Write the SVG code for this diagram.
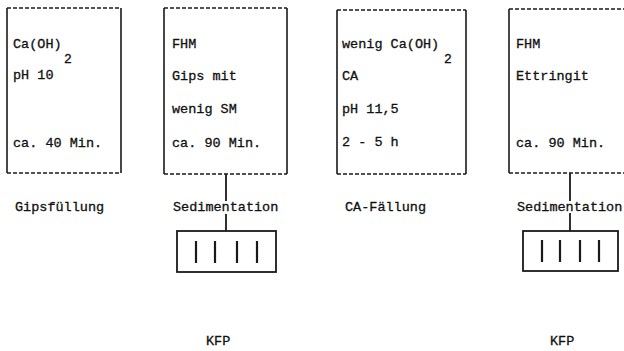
<svg xmlns="http://www.w3.org/2000/svg" width="624" height="351" viewBox="0 0 624 351">
<style>
text{font-family:"Liberation Mono","Courier New",monospace;font-size:13.5px;fill:#111;font-weight:normal;stroke:#111;stroke-width:0.3}
.sub{font-size:13px}
.side{stroke:#1a1a1a;stroke-width:1.6;fill:none}
.dash{stroke:#1a1a1a;stroke-width:1.4;stroke-dasharray:4 2;fill:none}
.con{stroke:#1a1a1a;stroke-width:1.8;fill:none}
.kbox{stroke:#1a1a1a;stroke-width:1.8;fill:#fff}
.bar{stroke:#1a1a1a;stroke-width:2.2}
</style>
<rect width="624" height="351" fill="#fff"/>
<g id="box1">
<line class="dash" x1="7" y1="8" x2="121" y2="8"/>
<line class="dash" x1="7" y1="173" x2="121" y2="173"/>
<line class="side" x1="7" y1="8" x2="7" y2="173"/>
<line class="side" x1="121" y1="8" x2="121" y2="173"/>
<text x="13" y="48">Ca(OH)</text>
<text class="sub" x="64" y="63">2</text>
<text x="13" y="79">pH 10</text>
<text x="13" y="147">ca. 40 Min.</text>
</g>
<g id="box2">
<line class="dash" x1="164" y1="8" x2="287" y2="8"/>
<line class="dash" x1="164" y1="174" x2="287" y2="174"/>
<line class="side" x1="164" y1="8" x2="164" y2="174"/>
<line class="side" x1="287" y1="8" x2="287" y2="174"/>
<text x="172" y="48">FHM</text>
<text x="172" y="80">Gips mit</text>
<text x="172" y="113">wenig SM</text>
<text x="172" y="147">ca. 90 Min.</text>
</g>
<g id="box3">
<line class="dash" x1="337" y1="10" x2="466" y2="10"/>
<line class="dash" x1="337" y1="174" x2="466" y2="174"/>
<line class="side" x1="337" y1="10" x2="337" y2="174"/>
<line class="side" x1="466" y1="10" x2="466" y2="174"/>
<text x="342" y="48">wenig Ca(OH)</text>
<text class="sub" x="444" y="63">2</text>
<text x="342" y="80">CA</text>
<text x="342" y="113">pH 11,5</text>
<text x="342" y="146">2 - 5 h</text>
</g>
<g id="box4">
<line class="dash" x1="509" y1="9" x2="630" y2="9"/>
<line class="dash" x1="509" y1="173" x2="630" y2="173"/>
<line class="side" x1="509" y1="9" x2="509" y2="173"/>
<text x="516" y="48">FHM</text>
<text x="516" y="80">Ettringit</text>
<text x="516" y="147">ca. 90 Min.</text>
</g>
<g id="labels">
<text x="15" y="211">Gipsfüllung</text>
<text x="173" y="211">Sedimentation</text>
<text x="345" y="211">CA-Fällung</text>
<text x="517" y="211">Sedimentation</text>
</g>
<g id="kfp1">
<rect class="kbox" x="177" y="231" width="99" height="41"/>
<line class="bar" x1="196" y1="241" x2="196" y2="263"/>
<line class="bar" x1="215" y1="241" x2="215" y2="263"/>
<line class="bar" x1="237" y1="241" x2="237" y2="263"/>
<line class="bar" x1="257" y1="241" x2="257" y2="263"/>
<text x="206" y="345">KFP</text>
</g>
<g id="kfp2">
<rect class="kbox" x="523" y="231" width="95" height="40"/>
<line class="bar" x1="542" y1="240" x2="542" y2="262"/>
<line class="bar" x1="560" y1="240" x2="560" y2="262"/>
<line class="bar" x1="580" y1="240" x2="580" y2="262"/>
<line class="bar" x1="599" y1="240" x2="599" y2="262"/>
<text x="550" y="345">KFP</text>
</g>
<g id="connectors">
<line class="con" x1="226" y1="174" x2="226" y2="201"/>
<line class="con" x1="226" y1="214" x2="226" y2="231"/>
<line class="con" x1="570" y1="173" x2="570" y2="201"/>
<line class="con" x1="570" y1="213" x2="570" y2="231"/>
</g>
</svg>
